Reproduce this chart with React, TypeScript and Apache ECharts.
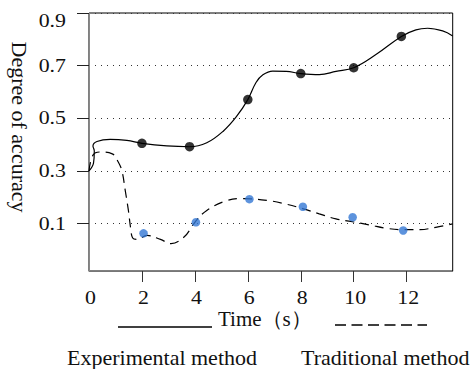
import { useEffect, useRef } from "react";
import * as echarts from "echarts";

// ---- data ----
const xTickValues = [2, 4, 6, 8, 10, 12];
const xLabelValues = [0, 2, 4, 6, 8, 10, 12];
const yTickValues = [0.1, 0.3, 0.5, 0.7, 0.9];

const expCurveX = [0, 0.17, 0.2, 0.15, 0.3, 0.8, 1.43, 2.0, 2.94, 3.8, 4.45, 5.08, 5.56, 6.0, 6.31, 6.57, 6.94, 7.45, 8.0, 8.7, 9.33, 10.0, 10.84, 11.8, 12.35, 12.79, 13.36, 13.74];
const expCurveY = [0.3, 0.33, 0.376, 0.395, 0.412, 0.42, 0.416, 0.405, 0.395, 0.392, 0.407, 0.452, 0.505, 0.571, 0.636, 0.665, 0.679, 0.678, 0.67, 0.666, 0.678, 0.692, 0.742, 0.811, 0.836, 0.842, 0.832, 0.813];
const expPointX = [2.0, 3.8, 6.0, 8.0, 10.0, 11.8];
const expPointY = [0.405, 0.392, 0.571, 0.67, 0.692, 0.811];

const tradCurveX = [0, 0.15, 0.4, 0.88, 1.1, 1.245, 1.37, 1.49, 1.57, 1.65, 1.8, 2.2, 2.7, 3.1, 3.6, 4.0, 4.45, 5.2, 5.8, 6.8, 7.45, 8.1, 8.7, 9.33, 10.0, 10.6, 11.25, 11.9, 12.5, 13.1, 13.74];
const tradCurveY = [0.3, 0.36, 0.372, 0.365, 0.335, 0.3, 0.225, 0.149, 0.085, 0.045, 0.04, 0.055, 0.04, 0.024, 0.05, 0.105, 0.15, 0.187, 0.195, 0.187, 0.174, 0.156, 0.137, 0.118, 0.106, 0.095, 0.082, 0.077, 0.077, 0.086, 0.099];
const tradPointX = [2.06, 4.04, 6.06, 8.08, 9.96, 11.87];
const tradPointY = [0.063, 0.105, 0.193, 0.164, 0.124, 0.074];

const seriesNames = ["Experimental method", "Traditional method"];
const xTitle = "Time（s）";
const yTitle = "Degree of accuracy";

const FONT = "Liberation Serif";
const GRID = { left: 89, top: 13, right: 19.3, bottom: 98 };

const zip = (xs: number[], ys: number[]) => xs.map((x, i) => [x, ys[i]]);

export default function App() {
  const ref = useRef<HTMLDivElement>(null);
  useEffect(() => {
    if (!ref.current) return;
    const chart = echarts.init(ref.current, null, { renderer: "svg" });
    chart.setOption({
      animation: false,
      backgroundColor: "#fff",
      grid: {
        ...GRID,
        show: true,
        borderColor: "#000",
        borderWidth: 1,
        containLabel: false,
      },
      xAxis: {
        type: "value",
        min: 0,
        max: 13.74,
        axisLine: { show: true, onZero: false, lineStyle: { color: "#777", width: 1 } },
        axisTick: { show: true, customValues: xTickValues, length: 11, lineStyle: { color: "#333" } },
        axisLabel: { show: false },
        splitLine: { show: false },
      },
      yAxis: {
        type: "value",
        min: -0.08,
        max: 0.9,
        axisLine: { show: true, onZero: false, lineStyle: { color: "#888", width: 1 } },
        axisTick: { show: true, customValues: yTickValues, length: 12, lineStyle: { color: "#222" } },
        axisLabel: { show: false },
        splitLine: { show: true, lineStyle: { color: "#333", width: 1, type: [1, 5] } },
      },
      series: [
        {
          name: seriesNames[0],
          type: "line",
          data: zip(expCurveX, expCurveY),
          smooth: 0.4,
          showSymbol: false,
          lineStyle: { color: "#000", width: 1.2 },
          z: 3,
        },
        {
          name: seriesNames[1],
          type: "line",
          data: zip(tradCurveX, tradCurveY),
          smooth: 0.4,
          showSymbol: false,
          lineStyle: { color: "#000", width: 1.2, type: [9, 6] },
          z: 3,
        },
        {
          type: "scatter",
          data: zip(expPointX, expPointY),
          symbol: "circle",
          symbolSize: 9.5,
          itemStyle: { color: "#000" },
          z: 4,
        },
        {
          type: "scatter",
          data: zip(tradPointX, tradPointY),
          symbol: "circle",
          symbolSize: 8.5,
          itemStyle: { color: "#3578d4" },
          z: 4,
        },
      ],
    });

    const textStyle = (extra: any) => ({
      fontFamily: FONT,
      fill: "#111",
      ...extra,
    });

    // tick labels placed through the axes' own scales
    const xLabels = xLabelValues.map((v) => {
      const px = chart.convertToPixel({ xAxisIndex: 0 }, v) as number;
      return {
        type: "text",
        x: px + 1.5,
        y: 298,
        scaleX: 1.15,
        style: textStyle({ text: String(v), fontSize: 19, align: "center", verticalAlign: "middle" }),
      };
    });
    const yLabels = yTickValues.map((v) => {
      const py = chart.convertToPixel({ yAxisIndex: 0 }, v) as number;
      return {
        type: "text",
        x: 66,
        y: Math.max(py - 0.5, GRID.top + 7.5),
        scaleX: 1.15,
        style: textStyle({ text: v.toFixed(1), fontSize: 19, align: "right", verticalAlign: "middle" }),
      };
    });

    chart.setOption({
      graphic: [
        ...xLabels,
        ...yLabels,
        {
          type: "text",
          x: 19,
          y: 127,
          rotation: -Math.PI / 2,
          style: textStyle({ text: yTitle, fontSize: 22, align: "center", verticalAlign: "middle" }),
        },
        {
          type: "text",
          x: 218,
          y: 318.5,
          style: textStyle({ text: xTitle, fontSize: 21, align: "left", verticalAlign: "middle" }),
        },
        {
          type: "line",
          shape: { x1: 118, y1: 327, x2: 212, y2: 327 },
          style: { stroke: "#000", lineWidth: 1.3 },
        },
        {
          type: "line",
          shape: { x1: 335, y1: 325, x2: 427, y2: 325 },
          style: { stroke: "#000", lineWidth: 1.3, lineDash: [11, 5.5] },
        },
        {
          type: "text",
          x: 67,
          y: 357,
          style: textStyle({ text: seriesNames[0], fontSize: 22, align: "left", verticalAlign: "middle" }),
        },
        {
          type: "text",
          x: 301,
          y: 357,
          style: textStyle({ text: seriesNames[1], fontSize: 22, align: "left", verticalAlign: "middle" }),
        },
      ],
    });
    return () => chart.dispose();
  }, []);
  return (
    <div
      ref={ref}
      style={{ position: "fixed", left: 0, top: 0, width: 472, height: 369, background: "#fff" }}
    />
  );
}
